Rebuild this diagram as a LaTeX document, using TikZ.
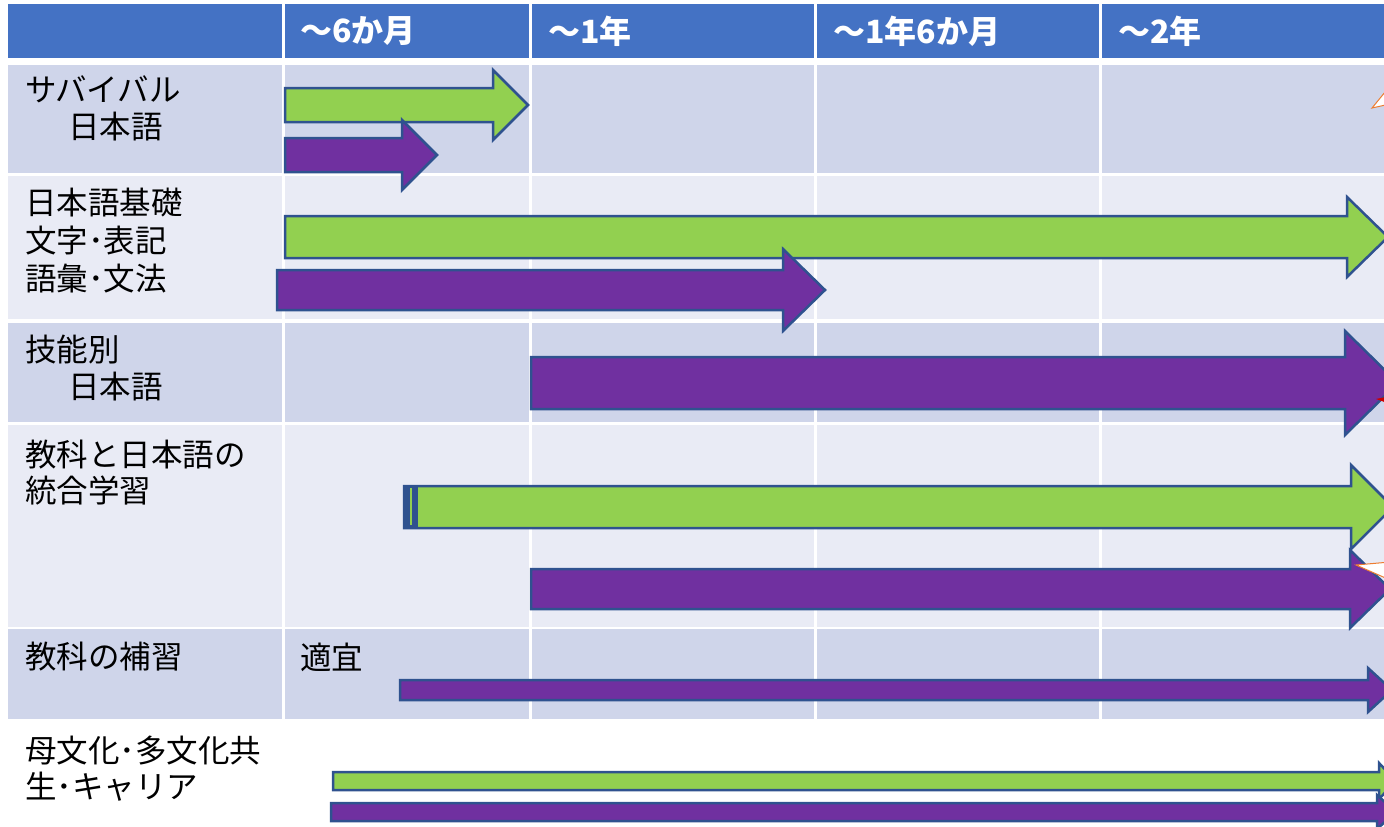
\documentclass[tikz,border=0pt]{standalone}
\usepackage{fontspec}
\setmainfont{Noto Sans CJK JP}
\usetikzlibrary{positioning}
\definecolor{hdrblue}{HTML}{4472C4}
\definecolor{rowdark}{HTML}{CFD5EA}
\definecolor{rowlight}{HTML}{E9EBF5}
\definecolor{arrgreen}{HTML}{92D050}
\definecolor{arrpurple}{HTML}{7030A0}
\definecolor{arredge}{HTML}{2F528F}
\definecolor{calloutorange}{HTML}{ED7D31}
% block arrow: style, x start, head base x, tip x, y mid, shaft half, head half
\newcommand{\blkarrow}[7]{%
  \draw[#1] (#2,{#5-#6}) -- (#3,{#5-#6}) -- (#3,{#5-#7}) -- (#4,#5)
    -- (#3,{#5+#7}) -- (#3,{#5+#6}) -- (#2,{#5+#6}) -- cycle;}

\begin{document}
\begin{tikzpicture}[x=1pt,y=-1pt,
  lbl/.style={anchor=west,inner sep=0pt,font=\fontsize{31.5}{36}\selectfont},
  hdr/.style={lbl,text=white,font=\fontsize{32}{36}\selectfont\bfseries},
  grn/.style={fill=arrgreen,draw=arredge,line width=2.5pt},
  prp/.style={fill=arrpurple,draw=arredge,line width=2.5pt}]
\useasboundingbox (0,0) rectangle (1384,827);
\clip (0,0) rectangle (1384,827);
% table cells
\foreach \ya/\yb/\c in {4/58/hdrblue,65/173/rowdark,176/319/rowlight,
                        323/422/rowdark,425/627/rowlight,629/719/rowdark}
  \foreach \xa/\xb in {8/282,285/529,532/814,817/1099,1102/1390}
    \fill[\c] (\xa,\ya) rectangle (\xb,\yb);
% header
\node[hdr] (h6m) at (300,31) {～6か月};
\node[hdr] (h1y) at (548,31) {～1年};
\node[hdr] (h18m) at (833,31) {～1年6か月};
\node[hdr] (h2y) at (1118,31) {～2年};
% row labels
\node[lbl] (sv1) at (25,89) {サバイバル};
\node[lbl] (sv2) at (68,127) {日本語};
\node[lbl] (kb1) at (25,203) {日本語基礎};
\node[lbl] (kb2) at (25,241) {文字･表記};
\node[lbl] (kb3) at (25,279) {語彙･文法};
\node[lbl] (gn1) at (25,350) {技能別};
\node[lbl] (gn2) at (68,387) {日本語};
\node[lbl] (tg1) at (25,455) {教科と日本語の};
\node[lbl] (tg2) at (25,491) {統合学習};
\node[lbl] (hs) at (25,657) {教科の補習};
\node[lbl] (tekigi) at (300,657) {適宜};
\node[lbl] (bb1) at (25,751) {母文化･多文化共};
\node[lbl] (bb2) at (25,787) {生･キャリア};
% arrows: green / purple
\blkarrow{grn}{285}{493}{528}{105}{17}{35}
\blkarrow{prp}{285}{402}{437}{155}{17}{35}
\blkarrow{grn}{285}{1347}{1388}{237}{21}{40}
\blkarrow{prp}{277}{783}{825}{290}{20}{41}
\blkarrow{prp}{531}{1345}{1398}{383}{26}{52}
\blkarrow{grn}{404}{1351}{1393}{507}{21}{42}
\fill[arredge] (403,485) rectangle (418,528);
\draw[arrgreen,line width=2pt] (411,488) -- (411,525);
\blkarrow{prp}{531}{1350}{1390}{589}{20}{39}
\blkarrow{prp}{400}{1368}{1392}{690}{10}{22}
\blkarrow{grn}{333}{1379}{1396}{781}{9}{18}
\blkarrow{prp}{331}{1377}{1396}{812}{9}{17}
% clipped callouts at the right edge
\draw[calloutorange,fill=white,line width=1pt] (1372,108) -- (1390,86) -- (1390,104) -- cycle;
\draw[calloutorange,fill=white,line width=1pt] (1356,565) -- (1390,562) -- (1390,580) -- cycle;
\fill[red!80!black] (1376,399) -- (1390,396) -- (1390,404) -- cycle;
\end{tikzpicture}
\end{document}
